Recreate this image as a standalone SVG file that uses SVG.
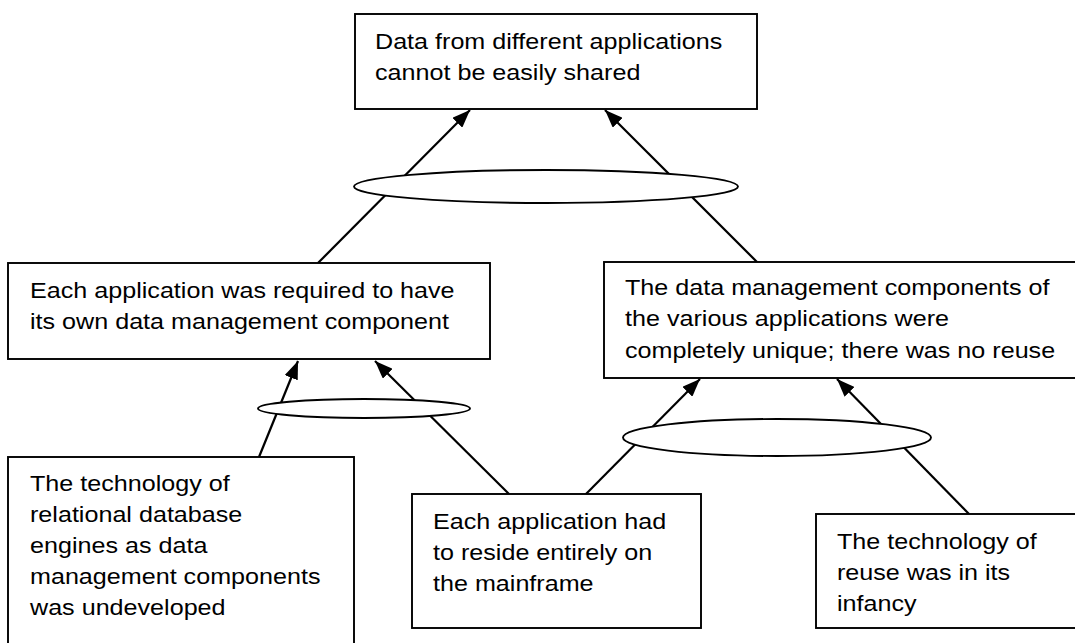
<svg xmlns="http://www.w3.org/2000/svg" width="1075" height="643" viewBox="0 0 1075 643">
  <style>
    .box { fill: #ffffff; stroke: #000000; stroke-width: 1.9; }
    .junction { fill: #ffffff; stroke: #000000; stroke-width: 1.9; }
    .link { fill: none; stroke: #000000; stroke-width: 2.2; marker-end: url(#head); }
    .label { font-family: "Liberation Sans", Arial, sans-serif; font-size: 22.5px; fill: #000000; }
  </style>
  <defs>
    <marker id="head" markerUnits="userSpaceOnUse" markerWidth="19" markerHeight="14" refX="18" refY="7" orient="auto">
      <path d="M0,0 L18,7 L0,14 Z" fill="#000000"/>
    </marker>
  </defs>

  <rect width="1075" height="643" fill="#ffffff"/>

  <!-- connectors: each runs from the cause box up to the effect box -->
  <g id="connectors">
    <line class="link" x1="318" y1="263" x2="470" y2="110"/>
    <line class="link" x1="757" y1="262" x2="605" y2="110"/>
    <line class="link" x1="259" y1="457" x2="298" y2="361"/>
    <line class="link" x1="509" y1="494" x2="375" y2="361"/>
    <line class="link" x1="585" y1="495" x2="700" y2="379"/>
    <line class="link" x1="969" y1="514" x2="837" y2="379"/>
  </g>

  <!-- "and" junctions joining pairs of connectors -->
  <g id="junctions">
    <ellipse id="and-top" class="junction" cx="546" cy="186.5" rx="192" ry="16.5"/>
    <ellipse id="and-left" class="junction" cx="364" cy="408.5" rx="106" ry="9.5"/>
    <ellipse id="and-right" class="junction" cx="777" cy="437.5" rx="154" ry="18.5"/>
  </g>

  <g id="node-shared">
    <rect class="box" x="355" y="14" width="402" height="95"/>
    <text class="label" transform="translate(375 49) scale(1.117 1)">
      <tspan x="0" y="0">Data from different applications</tspan>
      <tspan x="0" y="31.2">cannot be easily shared</tspan>
    </text>
  </g>

  <g id="node-own-component">
    <rect class="box" x="8" y="263" width="482" height="96"/>
    <text class="label" transform="translate(30 298) scale(1.117 1)">
      <tspan x="0" y="0">Each application was required to have</tspan>
      <tspan x="0" y="31.2">its own data management component</tspan>
    </text>
  </g>

  <g id="node-unique">
    <rect class="box" x="604" y="262" width="480" height="116"/>
    <text class="label" transform="translate(625 295) scale(1.117 1)">
      <tspan x="0" y="0">The data management components of</tspan>
      <tspan x="0" y="31.4">the various applications were</tspan>
      <tspan x="0" y="62.8">completely unique; there was no reuse</tspan>
    </text>
  </g>

  <g id="node-rdbms">
    <rect class="box" x="8" y="457" width="346" height="200"/>
    <text class="label" transform="translate(30 490.5) scale(1.117 1)">
      <tspan x="0" y="0">The technology of</tspan>
      <tspan x="0" y="31.2">relational database</tspan>
      <tspan x="0" y="62.4">engines as data</tspan>
      <tspan x="0" y="93.6">management components</tspan>
      <tspan x="0" y="124.8">was undeveloped</tspan>
    </text>
  </g>

  <g id="node-mainframe">
    <rect class="box" x="412" y="494" width="289" height="134"/>
    <text class="label" transform="translate(433 529) scale(1.117 1)">
      <tspan x="0" y="0">Each application had</tspan>
      <tspan x="0" y="31.2">to reside entirely on</tspan>
      <tspan x="0" y="62.4">the mainframe</tspan>
    </text>
  </g>

  <g id="node-reuse">
    <rect class="box" x="816" y="514" width="270" height="114"/>
    <text class="label" transform="translate(837 549) scale(1.117 1)">
      <tspan x="0" y="0">The technology of</tspan>
      <tspan x="0" y="31.2">reuse was in its</tspan>
      <tspan x="0" y="62.4">infancy</tspan>
    </text>
  </g>
</svg>
